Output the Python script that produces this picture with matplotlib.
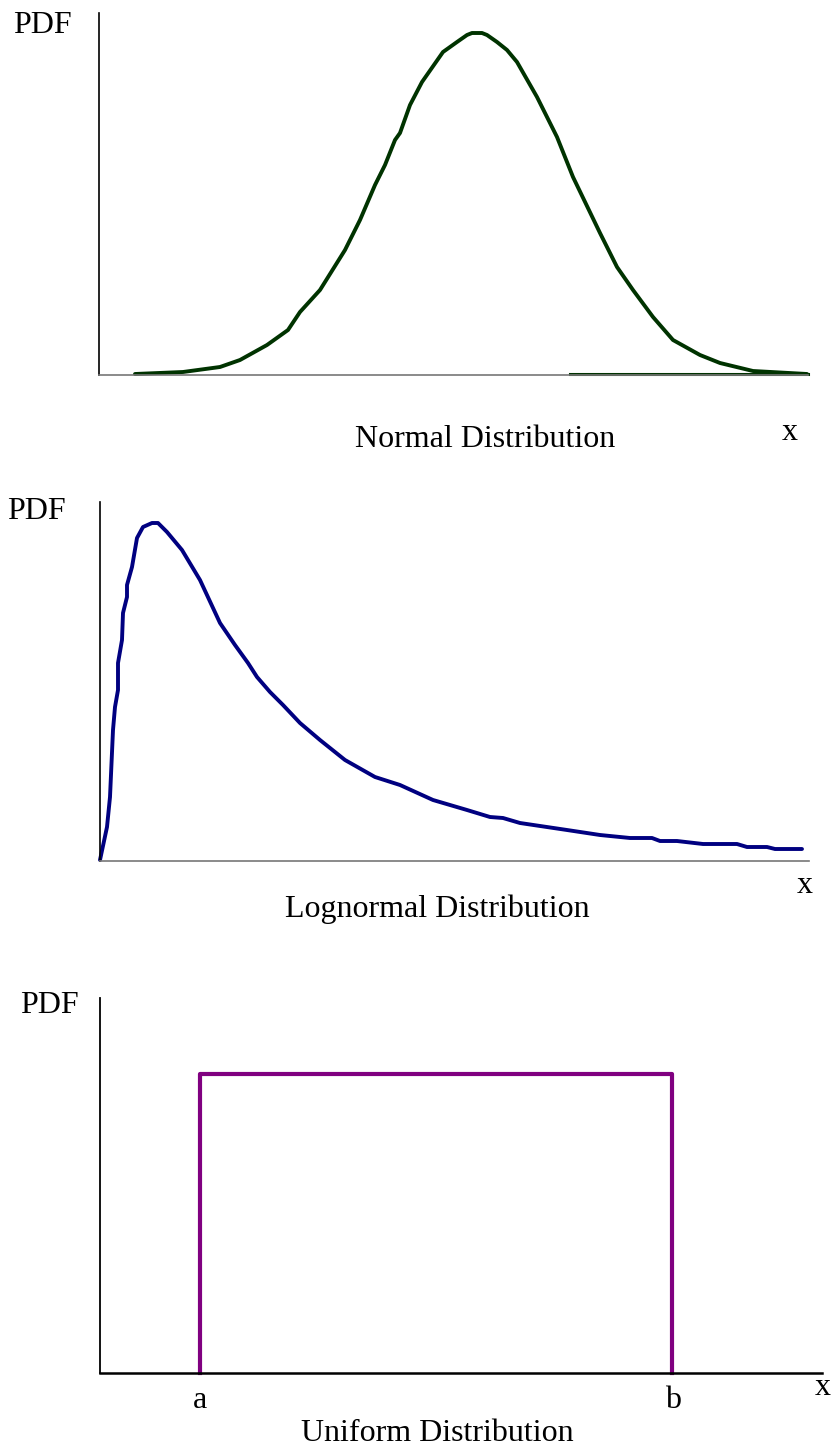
import numpy as np
import matplotlib
matplotlib.use("Agg")
import matplotlib.pyplot as plt

# Normal distribution curve (x position, pdf height), arbitrary units
normal_x = [36, 84, 121, 141, 168, 189, 201, 221, 246, 261, 276, 286, 296, 301,
            311, 323, 344, 358, 368, 373, 378, 383, 388, 398, 408, 418, 438, 458,
            474, 501, 518, 534, 554, 574, 601, 621, 654, 708]
normal_pdf = [1, 3, 8, 15, 30, 45, 63, 85, 125, 155, 190, 210, 235, 242,
              270, 293, 323, 333, 340, 342, 342, 342, 340, 333, 325, 313, 278, 238,
              198, 142, 108, 85, 58, 35, 20, 12, 4, 1]
normal_flat_x = [471, 709]
normal_flat_pdf = [1, 1]

# Lognormal distribution curve
lognormal_x = [0, 7, 10, 13, 15, 18, 18, 22, 23, 27, 27, 32, 37, 43, 52, 58, 67,
               82, 100, 120, 135, 148, 157, 170, 183, 200, 220, 245, 275, 300,
               333, 367, 390, 403, 420, 467, 500, 530, 552, 560, 577, 603, 637,
               647, 667, 675, 702]
lognormal_pdf = [1, 34, 64, 131, 154, 171, 198, 221, 248, 264, 276, 294, 323, 334,
                 338, 338, 329, 311, 281, 238, 216, 198, 184, 169, 156, 138, 121,
                 101, 84, 76, 61, 51, 44, 43, 38, 31, 26, 23, 23, 20, 20, 17, 17,
                 14, 14, 12, 12]

# Uniform distribution
uniform_a = 100
uniform_b = 572
uniform_pdf = 299

W, H = 834, 1446
fig = plt.figure(figsize=(W / 100, H / 100), dpi=100)
plt.rcParams['font.family'] = ['Liberation Serif', 'DejaVu Serif']


def add_panel(left, right, top, bottom):
    ax = fig.add_axes([left / W, 1 - bottom / H, (right - left) / W, (bottom - top) / H])
    ax.set_xlim(0, right - left)
    ax.set_ylim(0, bottom - top)
    for s in ['top', 'right']:
        ax.spines[s].set_visible(False)
    ax.set_xticks([])
    ax.set_yticks([])
    ax.patch.set_alpha(0)
    return ax


def label(x, y, s, ha='center'):
    fig.text(x / W, 1 - y / H, s, ha=ha, va='baseline', fontsize=23, color='black')


# Panel 1: Normal
ax1 = add_panel(99, 808, 13, 375)
ax1.spines['left'].set_linewidth(1.2)
ax1.spines['bottom'].set_color('#777777')
ax1.spines['bottom'].set_linewidth(1.2)
ax1.plot(normal_x, normal_pdf, color='#003300', lw=2.8, clip_on=False,
         solid_capstyle='round', solid_joinstyle='round')
ax1.plot(normal_flat_x, normal_flat_pdf, color='#003300', lw=2.2, clip_on=False)
label(42, 33, 'PDF')
label(485, 447, 'Normal Distribution')
label(790, 440, 'x')

# Panel 2: Lognormal
ax2 = add_panel(100, 809, 502, 861)
ax2.spines['left'].set_linewidth(1.2)
ax2.spines['bottom'].set_color('#777777')
ax2.spines['bottom'].set_linewidth(1.2)
ax2.plot(lognormal_x, lognormal_pdf, color='#000080', lw=2.8, clip_on=False,
         solid_capstyle='round', solid_joinstyle='round')
label(36, 519, 'PDF')
label(437, 917, 'Lognormal Distribution')
label(805, 893, 'x')

# Panel 3: Uniform
ax3 = add_panel(100, 822, 998, 1373)
ax3.spines['left'].set_linewidth(1.3)
ax3.spines['bottom'].set_linewidth(1.8)
ax3.plot([uniform_a, uniform_a, uniform_b, uniform_b], [0, uniform_pdf, uniform_pdf, 0],
         color='#800080', lw=3.0, clip_on=False)
label(49, 1013, 'PDF')
label(200, 1408, 'a')
label(673, 1408, 'b')
label(823, 1395, 'x')
label(437, 1441, 'Uniform Distribution')

fig.savefig('out.png', dpi=100, facecolor='white')
